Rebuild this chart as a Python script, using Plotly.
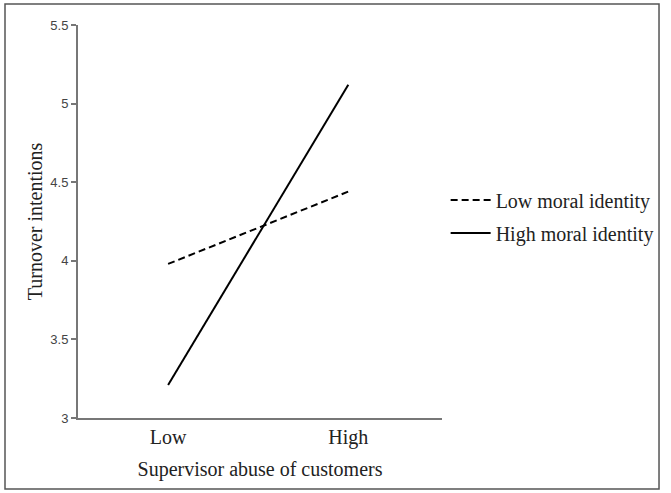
import plotly.graph_objects as go

categories = ["Low", "High"]
low_moral = [3.98, 4.44]
high_moral = [3.21, 5.12]
series_names = ["Low moral identity", "High moral identity"]

W, H = 671, 493
ml, mr, mt, mb = 78, 224, 25, 75

serif = "Liberation Serif"
fig = go.Figure()
fig.add_trace(go.Scatter(x=categories, y=low_moral, mode="lines", name=series_names[0],
                         legendgroup="a",
                         line=dict(color="black", width=2, dash="7px,4px")))
fig.add_trace(go.Scatter(x=categories, y=high_moral, mode="lines", name=series_names[1],
                         legendgroup="b",
                         line=dict(color="black", width=2)))

fig.update_layout(
    width=W, height=H,
    margin=dict(l=ml, r=mr, t=mt, b=mb),
    paper_bgcolor="white", plot_bgcolor="white",
    showlegend=True,
    legend=dict(x=1.01, y=0.513, xanchor="left", yanchor="middle", itemwidth=40,
                font=dict(family=serif, size=20, color="#222"),
                tracegroupgap=4, bgcolor="rgba(0,0,0,0)"),
    xaxis=dict(type="category", range=[-0.5, 1.52], showgrid=False, zeroline=False,
               showline=True, linecolor="#777", linewidth=2, ticks="",
               tickfont=dict(family=serif, size=20, color="#222"),
               title=dict(text="Supervisor abuse of customers", standoff=14,
                          font=dict(family=serif, size=20, color="#222"))),
    yaxis=dict(range=[3, 5.5], dtick=0.5, tick0=3, showgrid=False, zeroline=False,
               showline=True, linecolor="#777", linewidth=2, ticks="outside",
               ticklen=5, tickcolor="#777", tickwidth=1.5,
               tickfont=dict(family="Liberation Sans", size=13, color="#444"),
               title=dict(text="Turnover intentions", standoff=2,
                          font=dict(family=serif, size=20, color="#222"))),
)

pw = W - ml - mr
ph = H - mt - mb
def px2x(p):
    return (p - ml) / pw
def py2y(p):
    return 1 - (p - mt) / ph

fig.add_shape(type="rect", xref="paper", yref="paper",
              x0=px2x(4), x1=px2x(667), y0=py2y(489), y1=py2y(4),
              line=dict(color="#555", width=1.5), fillcolor="rgba(0,0,0,0)", layer="below")

fig.write_html("out.html", config={"displayModeBar": False},
               post_script="document.body.style.margin='0';document.body.style.overflow='hidden';")
